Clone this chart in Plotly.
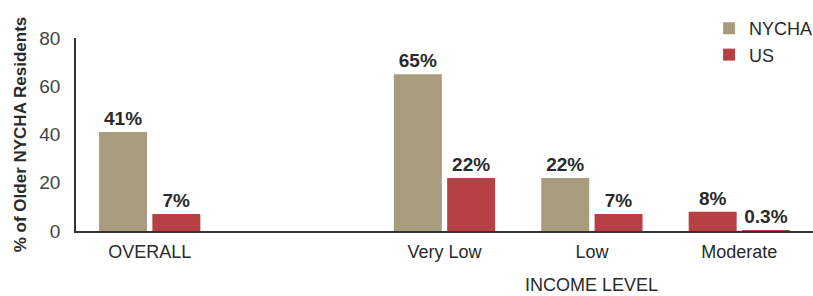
import plotly.graph_objects as go

categories = ["OVERALL", "Very Low", "Low", "Moderate"]
cat_pos = [0, 2, 3, 4]
nycha = [41, 65, 22, 8]
us = [7, 22, 7, 0.3]
nycha_labels = ["41%", "65%", "22%", "8%"]
us_labels = ["7%", "22%", "7%", "0.3%"]
y_ticks = [0, 20, 40, 60, 80]

TAN = "#A99B7E"
RED = "#B74044"
TXT = "#2a2a2a"
FONT = "Liberation Sans, Arial, sans-serif"

fig = go.Figure()
fig.add_trace(go.Bar(
    x=cat_pos, y=nycha, name="NYCHA",
    marker=dict(color=[TAN, TAN, TAN, RED], line=dict(width=0)),
    text=nycha_labels, textposition="outside", cliponaxis=False,
    textfont=dict(family=FONT, size=19, color=TXT, weight="bold"),
))
fig.add_trace(go.Bar(
    x=cat_pos, y=us, name="US",
    marker=dict(color=RED, line=dict(width=0)),
    text=us_labels, textposition="outside", cliponaxis=False,
    textfont=dict(family=FONT, size=19, color=TXT, weight="bold"),
))

fig.update_layout(
    width=813, height=296,
    margin=dict(l=76, r=0, t=38, b=65, autoexpand=False),
    paper_bgcolor="white", plot_bgcolor="white",
    barmode="group", bargap=0.277, bargroupgap=0.1,
    font=dict(family=FONT, size=18, color=TXT),
    showlegend=True,
    legend=dict(
        x=0.859, xanchor="left", y=1.145, yanchor="top",
        font=dict(family=FONT, size=18, color=TXT),
        bgcolor="rgba(0,0,0,0)", tracegroupgap=0,
    ),
    xaxis=dict(
        range=[-0.5, 4.5], tickmode="array", tickvals=cat_pos, ticktext=categories,
        showline=True, linecolor="#333", linewidth=1.5, showgrid=False, zeroline=False,
        ticks="", tickfont=dict(family=FONT, size=18, color=TXT),
        ticklabelstandoff=4, automargin=False,
    ),
    yaxis=dict(
        range=[0, 80], tickmode="array", tickvals=y_ticks,
        showline=True, linecolor="#333", linewidth=1.5, showgrid=False, zeroline=False,
        ticks="", tickfont=dict(family=FONT, size=19, color="#444"),
        ticklabelstandoff=10, automargin=True,
        title=dict(text="% of Older NYCHA Residents",
                   font=dict(family=FONT, size=17, color=TXT, weight="bold"),
                   standoff=8),
    ),
    annotations=[dict(
        text="INCOME LEVEL", x=cat_pos[2], xref="x", y=-0.28, yref="paper",
        yanchor="middle", xanchor="center", showarrow=False,
        font=dict(family=FONT, size=18, color=TXT),
    )],
)

fig.write_html(
    "out.html",
    config={"displayModeBar": False},
    post_script="document.body.style.margin='0';document.body.style.overflow='hidden';",
)
